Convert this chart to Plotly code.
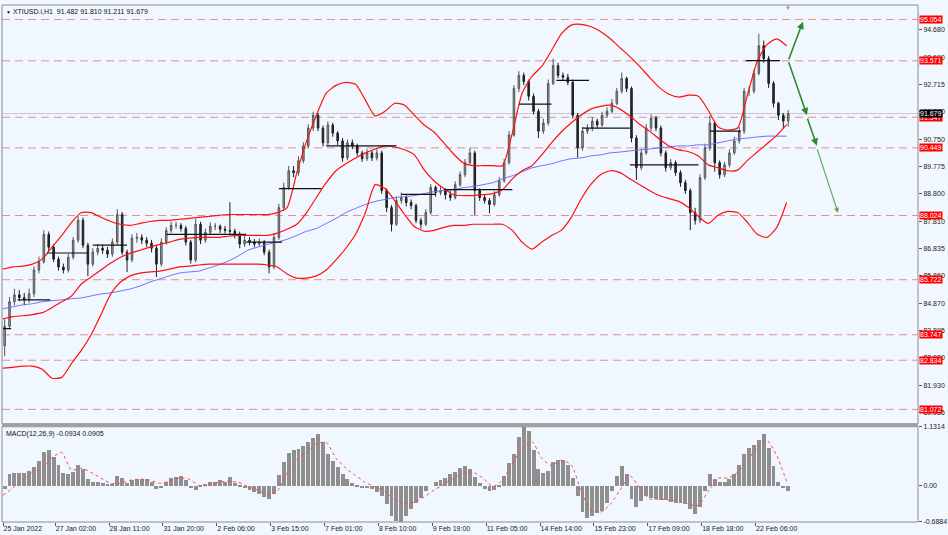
import plotly.graph_objects as go

# ---------------- data ----------------
first_open = 83.35
closes = [84.05, 84.93, 85.18, 85.08, 85.00, 85.22, 86.07, 86.36, 87.35, 86.89,
          86.46, 86.18, 86.07, 86.53, 87.14, 87.85, 86.96, 86.28, 86.71, 86.85,
          86.78, 86.64, 87.07, 88.06, 86.71, 86.43, 87.21, 87.24, 87.14, 87.03,
          86.85, 86.28, 87.07, 87.49, 87.67, 87.67, 87.56, 87.07, 86.43, 87.71,
          87.14, 87.42, 87.64, 87.64, 87.53, 87.49, 87.46, 87.35, 87.00, 87.14,
          87.07, 87.00, 87.07, 86.71, 86.18, 87.24, 88.31, 89.03, 89.63, 89.56,
          89.99, 90.52, 91.16, 91.62, 91.16, 90.63, 91.27, 90.98, 90.70, 90.09,
          90.63, 90.52, 90.27, 90.06, 90.27, 90.09, 90.27, 88.92, 88.31, 87.71,
          88.56, 88.67, 88.49, 88.38, 87.85, 87.71, 88.13, 89.03, 88.85, 88.92,
          88.77, 88.67, 89.13, 89.49, 89.92, 90.27, 88.92, 88.67, 88.56, 88.42,
          88.77, 89.27, 89.92, 90.91, 92.58, 93.05, 92.83, 92.30, 91.76, 91.05,
          91.34, 92.76, 93.40, 93.05, 92.98, 92.80, 91.62, 90.45, 91.05, 91.16,
          91.41, 91.27, 91.62, 91.76, 92.05, 92.48, 92.94, 92.58, 90.80, 89.74,
          90.27, 91.16, 91.52, 91.16, 90.27, 89.74, 89.92, 89.56, 89.20, 88.92,
          88.13, 87.85, 89.38, 90.45, 91.34, 89.92, 89.49, 89.84, 90.27, 90.70,
          91.05, 92.48, 92.48, 93.12, 94.11, 93.65, 92.76, 92.05, 91.62, 91.41,
          91.679]
highs = [84.30, 85.10, 85.40, 85.35, 85.25, 85.40, 86.20, 86.55, 87.50, 87.45,
         87.00, 86.55, 86.30, 86.65, 87.25, 88.00, 87.95, 87.05, 86.85, 87.00,
         86.98, 86.90, 87.20, 88.25, 88.15, 86.80, 87.35, 87.40, 87.35, 87.25,
         87.15, 86.95, 87.20, 87.60, 87.80, 87.80, 87.75, 87.65, 87.15, 87.90,
         87.80, 87.55, 87.78, 87.75, 87.70, 87.65, 88.50, 87.55, 87.45, 87.28,
         87.25, 87.18, 87.20, 87.15, 86.80, 87.40, 88.45, 89.20, 89.80, 89.80,
         90.15, 90.65, 91.30, 91.75, 91.70, 91.25, 91.40, 91.35, 91.05, 90.80,
         90.75, 90.75, 90.60, 90.35, 90.40, 90.35, 90.40, 90.35, 89.00, 88.40,
         88.70, 88.85, 88.75, 88.60, 88.45, 87.95, 88.25, 89.15, 89.10, 89.05,
         89.00, 88.90, 89.25, 89.60, 90.05, 90.45, 90.35, 89.00, 88.75, 88.65,
         88.90, 89.40, 90.05, 91.05, 92.70, 93.20, 93.15, 92.90, 92.40, 91.85,
         91.50, 92.90, 93.65, 93.50, 93.15, 93.10, 92.90, 91.70, 91.20, 91.30,
         91.55, 91.50, 91.75, 91.90, 92.20, 92.60, 93.15, 93.00, 92.65, 90.90,
         90.40, 91.30, 91.65, 91.60, 91.25, 90.35, 90.05, 90.00, 89.65, 89.30,
         89.00, 88.30, 89.50, 90.60, 91.60, 91.40, 90.00, 89.95, 90.40, 90.85,
         91.20, 92.60, 92.65, 93.25, 94.54, 94.30, 93.75, 92.85, 92.10, 91.70,
         91.81]
lows = [82.98, 83.95, 84.80, 84.95, 84.80, 84.90, 85.10, 85.95, 86.30, 86.75,
        86.35, 86.05, 85.95, 85.98, 86.45, 87.05, 86.85, 85.85, 86.20, 86.60,
        86.65, 86.50, 86.55, 86.98, 86.60, 86.00, 86.35, 87.05, 87.00, 86.90,
        86.70, 85.82, 86.20, 86.98, 87.40, 87.55, 87.45, 86.95, 86.30, 86.35,
        87.00, 87.05, 87.35, 87.50, 87.40, 87.38, 87.35, 87.20, 86.85, 86.90,
        86.95, 86.88, 86.90, 86.60, 85.95, 86.10, 87.15, 88.20, 88.95, 89.40,
        89.45, 89.90, 90.45, 91.05, 91.05, 90.50, 90.55, 90.85, 90.55, 89.95,
        90.00, 90.40, 90.15, 89.95, 89.98, 89.98, 90.00, 88.80, 88.15, 87.45,
        87.65, 88.45, 88.35, 88.25, 87.75, 87.55, 87.65, 88.05, 88.70, 88.75,
        88.60, 88.55, 88.60, 89.05, 89.40, 89.85, 88.05, 88.55, 88.45, 88.10,
        88.35, 88.70, 89.20, 89.85, 90.85, 92.45, 92.70, 92.15, 91.65, 90.80,
        90.95, 91.25, 92.70, 92.95, 92.85, 92.70, 91.50, 90.10, 90.35, 90.95,
        91.05, 91.15, 91.20, 91.55, 91.70, 91.98, 92.40, 92.45, 90.65, 89.30,
        89.65, 90.20, 91.05, 91.05, 90.15, 89.60, 89.65, 89.45, 89.05, 88.80,
        87.50, 87.70, 87.75, 89.30, 90.35, 89.60, 89.35, 89.40, 89.75, 90.20,
        90.60, 90.95, 92.30, 92.40, 93.05, 93.50, 92.60, 91.90, 91.45, 91.15,
        91.21]
opens = [first_open] + closes[:-1]

bb_upper = [86.10, 86.18, 86.21, 86.28, 86.46, 86.89, 87.31, 87.78, 88.13, 88.13,
            87.96, 87.81, 87.71, 87.67, 87.74, 87.81, 87.85, 87.85, 87.89, 87.92,
            87.96, 87.99, 88.03, 88.06, 88.06, 88.06, 88.06, 88.06, 88.13, 88.31,
            89.56, 90.70, 91.62, 92.41, 92.69, 92.80, 92.73, 92.16, 91.59, 91.76,
            92.05, 91.98, 91.62, 91.27, 91.02, 90.63, 90.23, 89.91, 89.81, 89.81,
            89.81, 89.81, 90.98, 92.41, 93.01, 93.37, 93.94, 94.54, 94.85, 94.88,
            94.80, 94.62, 94.36, 94.04, 93.72, 93.37, 92.98, 92.62, 92.37, 92.27,
            92.34, 92.30, 91.80, 91.20, 91.09, 91.16, 92.34, 93.55, 94.15, 94.36,
            94.11]
bb_middle = [84.32, 84.40, 84.43, 84.47, 84.54, 84.72, 84.93, 85.14, 85.57, 85.82,
             86.07, 86.32, 86.53, 86.67, 86.78, 86.89, 86.99, 87.07, 87.17, 87.21,
             87.24, 87.24, 87.24, 87.28, 87.31, 87.31, 87.31, 87.31, 87.39, 87.53,
             87.71, 88.13, 88.67, 89.20, 89.63, 89.88, 90.09, 90.27, 90.41, 90.52,
             90.48, 90.38, 90.20, 89.66, 89.27, 88.99, 88.77, 88.74, 88.74, 88.77,
             88.81, 88.95, 89.34, 89.63, 89.81, 90.20, 90.63, 91.02, 91.34, 91.62,
             91.84, 91.94, 91.98, 91.84, 91.59, 91.30, 91.05, 90.77, 90.52, 90.38,
             90.31, 90.16, 89.84, 89.74, 89.63, 89.65, 90.00, 90.30, 90.60, 90.90,
             91.28]
bb_lower = [82.55, 82.58, 82.62, 82.62, 82.51, 82.19, 82.22, 82.72, 83.19, 83.75,
            84.47, 85.21, 85.64, 85.86, 85.96, 86.00, 86.03, 86.10, 86.18, 86.21,
            86.25, 86.28, 86.28, 86.28, 86.28, 86.28, 86.28, 86.25, 86.18, 85.93,
            85.78, 85.78, 85.86, 86.07, 86.43, 86.85, 87.35, 88.13, 89.13, 88.99,
            88.56, 88.06, 87.63, 87.46, 87.49, 87.60, 87.67, 87.67, 87.71, 87.71,
            87.71, 87.71, 87.49, 87.07, 86.82, 87.07, 87.31, 87.49, 87.95, 88.60,
            89.13, 89.49, 89.63, 89.56, 89.34, 89.13, 88.92, 88.74, 88.63, 88.53,
            88.31, 87.99, 87.74, 88.03, 88.17, 88.13, 87.78, 87.35, 87.24, 87.60,
            88.49]
ma_blue = [84.68, 84.75, 84.82, 84.86, 84.93, 84.97, 85.00, 85.04, 85.07, 85.14,
           85.21, 85.25, 85.32, 85.39, 85.50, 85.64, 85.75, 85.86, 85.96, 86.00,
           86.03, 86.14, 86.25, 86.39, 86.57, 86.78, 86.89, 86.99, 87.07, 87.17,
           87.31, 87.46, 87.56, 87.74, 87.92, 88.13, 88.28, 88.42, 88.53, 88.60,
           88.67, 88.70, 88.74, 88.81, 88.88, 88.92, 88.95, 89.02, 89.06, 89.13,
           89.20, 89.34, 89.45, 89.59, 89.73, 89.81, 89.88, 89.98, 90.06, 90.09,
           90.16, 90.20, 90.27, 90.30, 90.34, 90.38, 90.41, 90.45, 90.48, 90.52,
           90.52, 90.56, 90.56, 90.63, 90.70, 90.77, 90.80, 90.84, 90.87, 90.87,
           90.87]

macd_hist = [-0.06, 0.23, 0.26, 0.26, 0.26, 0.30, 0.36, 0.49, 0.66, 0.69,
             0.56, 0.41, 0.26, 0.23, 0.28, 0.41, 0.32, 0.13, 0.09, 0.08,
             0.06, 0.04, 0.04, 0.19, 0.15, 0.06, 0.11, 0.13, 0.13, 0.13,
             0.08, -0.06, -0.04, 0.09, 0.15, 0.17, 0.19, 0.11, -0.02, -0.08,
             0.02, 0.04, 0.08, 0.09, 0.11, 0.09, 0.17, 0.06, 0.02, -0.02,
             -0.08, -0.11, -0.15, -0.21, -0.24, -0.15, 0.21, 0.47, 0.64, 0.69,
             0.71, 0.77, 0.84, 0.92, 0.99, 0.84, 0.62, 0.49, 0.36, 0.24,
             0.13, 0.06, 0.02, -0.02, -0.04, -0.06, -0.11, -0.19, -0.34, -0.56,
             -0.66, -0.68, -0.56, -0.43, -0.32, -0.23, -0.09, 0.00, 0.08, 0.11,
             0.15, 0.23, 0.28, 0.34, 0.38, 0.32, 0.17, 0.06, -0.06, -0.09,
             -0.08, 0.02, 0.20, 0.45, 0.62, 0.95, 1.13, 1.05, 0.70, 0.33,
             0.26, 0.30, 0.47, 0.51, 0.51, 0.41, 0.15, -0.18, -0.50, -0.61,
             -0.56, -0.51, -0.47, -0.32, -0.09, 0.19, 0.38, 0.24, -0.24, -0.39,
             -0.28, -0.19, -0.23, -0.24, -0.26, -0.26, -0.30, -0.32, -0.32, -0.34,
             -0.43, -0.53, -0.39, -0.09, 0.24, 0.13, 0.08, 0.08, 0.13, 0.23,
             0.41, 0.62, 0.73, 0.79, 0.88, 0.99, 0.73, 0.38, 0.09, -0.02,
             -0.0934]
macd_signal = [-0.18, -0.04, 0.11, 0.26, 0.34, 0.54, 0.64, 0.30, 0.34, 0.26,
               0.15, 0.05, 0.05, 0.11, 0.13, 0.11, 0.05, 0.09, 0.15, 0.13,
               0.01, 0.01, 0.07, 0.09, 0.07, -0.01, -0.08, -0.16, -0.10, 0.24,
               0.51, 0.64, 0.81, 0.83, 0.53, 0.34, 0.20, 0.07, -0.02, -0.10,
               -0.27, -0.33, -0.31, -0.21, -0.08, 0.03, 0.15, 0.24, 0.26, 0.15,
               -0.01, 0.11, 0.43, 0.71, 0.85, 0.53, 0.39, 0.49, 0.41, -0.08,
               -0.46, -0.50, -0.35, -0.08, 0.20, -0.04, -0.25, -0.25, -0.27, -0.27,
               -0.35, -0.37, -0.10, 0.15, 0.15, 0.26, 0.49, 0.73, 0.87, 0.58,
               0.0905]

# horizontal step segments (black)
seg_start = [0, 9, 27, 55, 100, 149, 169, 198, 244, 270, 316, 339, 355, 384, 433, 455]
seg_end = [5, 29, 52, 76, 149, 171, 195, 241, 265, 312, 336, 359, 384, 426, 452, 476]
seg_level = [83.97, 85.00, 86.68, 86.96, 87.35, 87.07, 88.99, 90.52, 88.78, 88.95,
             92.02, 92.87, 91.16, 89.84, 91.05, 93.58]

levels = [95.054, 93.571, 91.547, 90.449, 88.024, 85.722, 83.747, 82.834, 81.072]
last_price = 91.679

price_ticks = [94.680, 93.690, 92.715, 91.740, 90.750, 89.775, 88.800, 87.810,
               86.835, 85.860, 84.870, 83.895, 82.920, 81.930, 80.955]
date_tick_idx = [0, 32, 65, 98, 131, 164, 197, 230, 263, 296, 329, 362, 395, 428, 461]
date_labels = ["25 Jan 2022", "27 Jan 02:00", "28 Jan 11:00", "31 Jan 20:00", "2 Feb 06:00",
               "3 Feb 15:00", "7 Feb 01:00", "8 Feb 10:00", "9 Feb 19:00", "11 Feb 05:00",
               "14 Feb 14:00", "15 Feb 23:00", "17 Feb 09:00", "18 Feb 18:00", "22 Feb 06:00"]

# arrows: (tail hour, tail price, head hour, head price)
arrows = [(481, 93.571, 490, 94.97, "#2f8a2f", 1.6),
          (481, 93.571, 492.5, 91.62, "#2f8a2f", 1.6),
          (492.5, 91.547, 498.5, 90.53, "#2f8a2f", 1.6),
          (498.5, 90.449, 511.5, 88.12, "#55a455", 1.1)]

bar_hours = [3 * k + 1 for k in range(len(closes))]
line_hours = [6 * j for j in range(len(bb_upper))]

# ---------------- figure ----------------
BG = "#F0F7FE"
FONT = "Liberation Sans, Arial, DejaVu Sans"
MAIN_DOM = [0.19, 1.0]
MACD_DOM = [0.0, 0.1843]

fig = go.Figure()

for lv in levels:
    fig.add_shape(type="line", xref="paper", x0=0, x1=1, yref="y", y0=lv, y1=lv,
                  line=dict(color="#EC8C8C", width=1, dash="8px,5px"), layer="below")
fig.add_shape(type="line", xref="paper", x0=0, x1=1, yref="y", y0=last_price, y1=last_price,
              line=dict(color="#C4C8CC", width=1), layer="below")

fig.add_trace(go.Scatter(x=line_hours, y=ma_blue, mode="lines",
                         line=dict(color="#6f6fff", width=1, shape="spline", smoothing=0.6),
                         hoverinfo="skip", showlegend=False))
for band in (bb_upper, bb_middle, bb_lower):
    fig.add_trace(go.Scatter(x=line_hours, y=band, mode="lines",
                             line=dict(color="#FF1010", width=1.2, shape="spline", smoothing=0.6),
                             hoverinfo="skip", showlegend=False))

sx, sy = [], []
for s, e, lv in zip(seg_start, seg_end, seg_level):
    sx += [s, e, None]
    sy += [lv, lv, None]
fig.add_trace(go.Scatter(x=sx, y=sy, mode="lines", line=dict(color="#111111", width=1.2),
                         hoverinfo="skip", showlegend=False))

fig.add_trace(go.Candlestick(x=bar_hours, open=opens, high=highs, low=lows, close=closes,
                             increasing=dict(line=dict(color="#555555", width=1), fillcolor="#a0a0a0"),
                             decreasing=dict(line=dict(color="#1e1e1e", width=1), fillcolor="#2a2a2a"),
                             whiskerwidth=0, hoverinfo="skip", showlegend=False))

fig.add_trace(go.Bar(x=bar_hours, y=macd_hist, width=2.4, marker=dict(color="#8f8f8f", line=dict(width=0)),
                     yaxis="y2", hoverinfo="skip", showlegend=False))
fig.add_trace(go.Scatter(x=line_hours, y=macd_signal, mode="lines", yaxis="y2",
                         line=dict(color="#FF4a4a", width=1, dash="dot", shape="spline", smoothing=0.6),
                         hoverinfo="skip", showlegend=False))

ann = []
for lv in levels:
    ann.append(dict(xref="paper", x=1, xanchor="left", xshift=1, yref="y", y=lv,
                    text=f"{lv:.3f}", showarrow=False, bgcolor="#FF0000", borderpad=0,
                    font=dict(color="white", size=7, family=FONT)))
ann.append(dict(xref="paper", x=1, xanchor="left", xshift=1, yref="y", y=last_price,
                text=f"{last_price:.3f}", showarrow=False, bgcolor="#000000", borderpad=0,
                font=dict(color="white", size=7, family=FONT)))
ann.append(dict(xref="paper", x=0, xanchor="left", xshift=2, yref="paper", y=1, yanchor="top", yshift=-1,
                text="<span style='font-size:5px'>▼</span> XTIUSD.i,H1  91.482 91.810 91.211 91.679",
                showarrow=False, font=dict(color="#111", size=7, family=FONT)))
ann.append(dict(xref="paper", x=0, xanchor="left", xshift=2, yref="paper", y=MACD_DOM[1], yanchor="top",
                yshift=-1, text="MACD(12,26,9) -0.0934 0.0905", showarrow=False,
                font=dict(color="#111", size=7, family=FONT)))
ann.append(dict(xref="x", x=481, yref="paper", y=1, yanchor="top", yshift=2, text="▼",
                showarrow=False, font=dict(color="#9a9a9a", size=6, family=FONT)))
for tx, ty, hx, hy, col, w in arrows:
    ann.append(dict(xref="x", yref="y", x=hx, y=hy, axref="x", ayref="y", ax=tx, ay=ty,
                    text="", showarrow=True, arrowhead=2, arrowsize=0.9, arrowwidth=w,
                    arrowcolor=col, standoff=0))

# panel frames
shapes_extra = [
    dict(type="rect", xref="paper", yref="paper", x0=0, x1=1, y0=MAIN_DOM[0], y1=1,
         line=dict(color="#8c8c8c", width=1)),
    dict(type="rect", xref="paper", yref="paper", x0=0, x1=1, y0=0, y1=MACD_DOM[1],
         line=dict(color="#8c8c8c", width=1)),
    dict(type="rect", xref="paper", yref="paper", x0=0, x1=1, y0=MACD_DOM[1], y1=MAIN_DOM[0],
         line=dict(width=0), fillcolor="#a0a0a0"),
]
for sh in shapes_extra:
    fig.add_shape(**sh)

tick_font = dict(size=7, color="#222", family=FONT)
fig.update_layout(
    width=948, height=535,
    margin=dict(l=2, r=28, t=1, b=13),
    paper_bgcolor=BG, plot_bgcolor=BG,
    showlegend=False, bargap=0, boxgap=0.55,
    annotations=ann,
    xaxis=dict(domain=[0, 1], range=[-0.61, 560.5], anchor="y2", showgrid=False, zeroline=False,
               tickmode="array", tickvals=date_tick_idx, ticktext=date_labels,
               ticks="outside", ticklen=3, tickcolor="#555", ticklabelposition="outside right",
               tickfont=tick_font, showline=False, rangeslider=dict(visible=False), fixedrange=True),
    yaxis=dict(domain=MAIN_DOM, range=[80.556, 95.573], side="right", anchor="x", showgrid=False,
               zeroline=False, tickmode="array", tickvals=price_ticks,
               ticktext=[f"{v:.3f}" for v in price_ticks], ticks="outside", ticklen=3,
               tickcolor="#555", tickfont=tick_font, showline=False),
    yaxis2=dict(domain=MACD_DOM, range=[-0.6884, 1.1314], side="right", anchor="x", showgrid=False,
                zeroline=False, tickmode="array", tickvals=[1.1314, 0.0, -0.6884],
                ticktext=["1.1314", "0.00", "-0.6884"], ticks="outside", ticklen=3,
                tickcolor="#555", tickfont=tick_font, showline=False),
)

fig.write_html("out.html", config={"displayModeBar": False},
               post_script="document.body.style.margin='0';document.body.style.overflow='hidden';")
